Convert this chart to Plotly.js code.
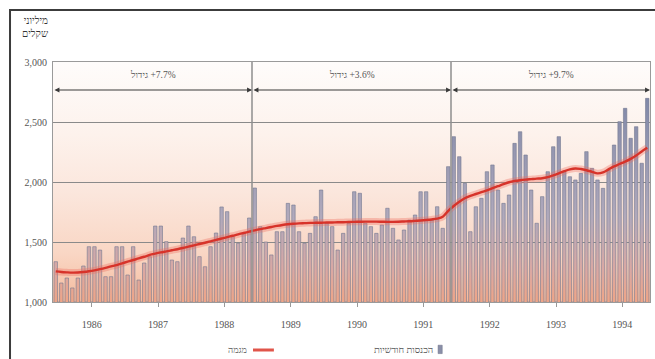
<!DOCTYPE html>
<html>
<head>
<meta charset="utf-8">
<script src="https://cdn.plot.ly/plotly-3.0.1.min.js"></script>
<style>
  html, body { margin: 0; padding: 0; background: #ffffff; }
  #chart { width: 655px; height: 359px; }
</style>
</head>
<body>
<div id="chart"></div>
<script>
// Monthly tax revenue (millions of shekels), June 1985 – May 1994
const firstMonth = '1985-06';
const revenue = [
  1336, 1158, 1200, 1117, 1200, 1300, 1461, 1461, 1433, 1211, 1211, 1461,
  1461, 1225, 1461, 1183, 1325, 1378, 1633, 1633, 1503, 1350, 1336, 1533,
  1633, 1544, 1378, 1294, 1461, 1575, 1792, 1753, 1544, 1489, 1575, 1700,
  1950, 1628, 1500, 1392, 1586, 1586, 1822, 1808, 1586, 1489, 1572, 1711,
  1933, 1656, 1628, 1433, 1572, 1656, 1919, 1906, 1656, 1628, 1572, 1642,
  1781, 1614, 1517, 1600, 1683, 1725, 1919, 1919, 1683, 1794, 1614, 2128,
  2378, 2211, 1989, 1586, 1794, 1864, 2086, 2142, 1933, 1822, 1892, 2322,
  2419, 2225, 1933, 1656, 1878, 2086, 2294, 2378, 2086, 2044, 2017, 2072,
  2253, 2114, 2017, 1947, 2100, 2308, 2503, 2614, 2364, 2461, 2156, 2697
];
// Trend of the monthly series
const trend = [
  1255, 1250, 1247, 1245, 1246, 1250, 1256, 1264, 1274, 1285, 1297, 1308,
  1322, 1336, 1350, 1363, 1377, 1392, 1403, 1413, 1422, 1431, 1440, 1450,
  1461, 1472, 1483, 1494, 1505, 1517, 1529, 1541, 1552, 1564, 1575, 1586,
  1597, 1607, 1616, 1625, 1634, 1642, 1648, 1652, 1655, 1657, 1659, 1660,
  1661, 1662, 1663, 1664, 1665, 1667, 1668, 1669, 1670, 1670, 1670, 1669,
  1668, 1668, 1669, 1671, 1673, 1676, 1679, 1683, 1688, 1695, 1710, 1760,
  1800, 1835, 1865, 1885, 1900, 1915, 1930, 1948, 1965, 1982, 1998, 2008,
  2015, 2020, 2024, 2028, 2031, 2040, 2055, 2072, 2090, 2105, 2113, 2108,
  2098, 2085, 2072, 2080, 2105, 2130, 2150, 2170, 2193, 2220, 2255, 2285
];
const yearTicks = [1986, 1987, 1988, 1989, 1990, 1991, 1992, 1993, 1994];
const yTicks = [1000, 1500, 2000, 2500, 3000];
// Growth periods
const segFirst = ['1985-06', '1988-06', '1991-06'];
const segLast = ['1988-05', '1991-05', '1994-05'];
const segWord = 'גידול';
const segRates = ['+7.7%', '+3.6%', '+9.7%'];
const legendLabels = ['מגמה', 'הכנסות חודשיות'];
const yTitle = ['מיליוני', 'שקלים'];

// month string -> position on a continuous year axis (start of month)
function monthStart(s) {
  const [y, m] = s.split('-').map(Number);
  return y + (m - 1) / 12;
}
const x0 = monthStart(firstMonth);
const centers = revenue.map((_, i) => x0 + (i + 0.5) / 12);
const xRange = [x0, x0 + revenue.length / 12];
const yRange = [yTicks[0], yTicks[yTicks.length - 1]];

// Bars as one filled outline so the fill can carry a vertical gradient
const hw = 0.31 / 12;
const bx = [], by = [];
revenue.forEach((v, i) => {
  const c = centers[i];
  bx.push(c - hw, c - hw, c + hw, c + hw);
  by.push(yRange[0], v, v, yRange[0]);
});

const serif = '"Liberation Serif", "DejaVu Serif", serif';

const traces = [
  {
    type: 'scatter', mode: 'lines', x: bx, y: by,
    fill: 'toself',
    fillgradient: {
      type: 'vertical', start: 1000, stop: 2700,
      colorscale: [[0, '#efa587'], [0.15, '#dba8a2'], [0.42, '#b0a9bc'], [1, '#8088a8']]
    },
    line: { color: '#737890', width: 0.6 },
    hoverinfo: 'skip', showlegend: false
  },
  {
    type: 'scatter', mode: 'lines', x: centers, y: trend,
    line: { color: 'rgba(238,110,95,0.35)', width: 7, shape: 'spline' },
    hoverinfo: 'skip', showlegend: false
  },
  {
    type: 'scatter', mode: 'lines', x: centers, y: trend,
    line: { color: '#d7332a', width: 2.4, shape: 'spline' },
    showlegend: false
  }
];

// Plot-area background: white at the top warming to peach at the base
const bgSvg = "<svg xmlns='http://www.w3.org/2000/svg' width='100' height='100' preserveAspectRatio='none'>" +
  "<defs><linearGradient id='g' x1='0' y1='0' x2='0' y2='1'>" +
  "<stop offset='0' stop-color='#fefcfb'/>" +
  "<stop offset='0.3' stop-color='#fdf2ec'/>" +
  "<stop offset='0.55' stop-color='#fbe6dc'/>" +
  "<stop offset='0.8' stop-color='#f9d6c4'/>" +
  "<stop offset='1' stop-color='#f5bb9d'/>" +
  "</linearGradient></defs><rect width='100' height='100' fill='url(#g)'/></svg>";

// left-to-right mark keeps the rate to the right of the Hebrew word
const LRM = '\u200E';
const annotations = [];
const shapes = [];
const arrowY = 2767, labelY = 2892;
segFirst.forEach((s, k) => {
  const a = monthStart(s);
  const b = monthStart(segLast[k]) + 1 / 12;
  annotations.push({
    x: (a + b) / 2, y: labelY, xref: 'x', yref: 'y',
    text: LRM + segWord + LRM + ' ' + segRates[k],
    showarrow: false, font: { family: serif, size: 9.5, color: '#555' }
  });
  annotations.push({
    x: b, y: arrowY, ax: a, ay: arrowY, xref: 'x', yref: 'y', axref: 'x', ayref: 'y',
    text: '', showarrow: true, arrowhead: 2, startarrowhead: 2, arrowside: 'end+start',
    arrowsize: 0.9, arrowwidth: 1.1, arrowcolor: '#3a3a3a', standoff: 0, startstandoff: 0
  });
  if (k > 0) {
    shapes.push({
      type: 'line', xref: 'x', yref: 'paper', x0: a, x1: a, y0: 0, y1: 1,
      line: { color: '#8e8e8e', width: 1.5 }
    });
  }
});

// Axis unit caption, top left
annotations.push({
  xref: 'paper', yref: 'paper', x: -0.005, y: 1.205, xanchor: 'right', yanchor: 'top',
  text: yTitle.join('<br>'), showarrow: false, align: 'right',
  font: { family: serif, size: 10, color: '#333' }
});

// Legend, drawn right-to-left: label then key
annotations.push({
  xref: 'paper', yref: 'paper', x: 0.328, y: -0.2, xanchor: 'right', yanchor: 'middle',
  text: legendLabels[0], showarrow: false, font: { family: serif, size: 9, color: '#555' }
});
shapes.push({
  type: 'line', xref: 'paper', yref: 'paper', x0: 0.335, x1: 0.37, y0: -0.2, y1: -0.2,
  line: { color: '#e0554a', width: 3 }
});
annotations.push({
  xref: 'paper', yref: 'paper', x: 0.64, y: -0.2, xanchor: 'right', yanchor: 'middle',
  text: legendLabels[1], showarrow: false, font: { family: serif, size: 9.5, color: '#555' }
});
shapes.push({
  type: 'rect', xref: 'paper', yref: 'paper', x0: 0.645, x1: 0.652, y0: -0.215, y1: -0.18,
  fillcolor: '#8a8fa8', line: { color: '#6f7389', width: 0.5 }
});

// Outer frame
shapes.push({
  type: 'rect', xref: 'paper', yref: 'paper', x0: -0.072, x1: 1.012, y0: -0.26, y1: 1.2167,
  line: { color: '#3c3c3c', width: 2 }, layer: 'above'
});

const layout = {
  width: 655, height: 359,
  margin: { l: 53, r: 5, t: 62, b: 57 },
  paper_bgcolor: '#ffffff', plot_bgcolor: '#ffffff',
  showlegend: false,
  images: [{
    source: 'data:image/svg+xml;charset=utf-8,' + encodeURIComponent(bgSvg),
    xref: 'paper', yref: 'paper', x: 0, y: 1, sizex: 1, sizey: 1,
    sizing: 'stretch', xanchor: 'left', yanchor: 'top', layer: 'below'
  }],
  xaxis: {
    range: xRange, tickvals: yearTicks, ticktext: yearTicks.map(String),
    showgrid: false, zeroline: false,
    ticks: 'outside', ticklen: 4, tickcolor: '#999',
    ticklabelstandoff: 9,
    showline: true, mirror: true, linecolor: '#9a9a9a', linewidth: 1,
    tickfont: { family: serif, size: 10, color: '#555' }
  },
  yaxis: {
    range: yRange, tickvals: yTicks, tickformat: ',',
    showgrid: true, gridcolor: '#8a8a8a', gridwidth: 1, zeroline: false,
    ticks: '', ticklabelstandoff: 3,
    showline: true, mirror: true, linecolor: '#9a9a9a', linewidth: 1,
    tickfont: { family: serif, size: 10, color: '#555' }
  },
  annotations: annotations,
  shapes: shapes
};

Plotly.newPlot('chart', traces, layout, { staticPlot: true, displayModeBar: false });
</script>
</body>
</html>
